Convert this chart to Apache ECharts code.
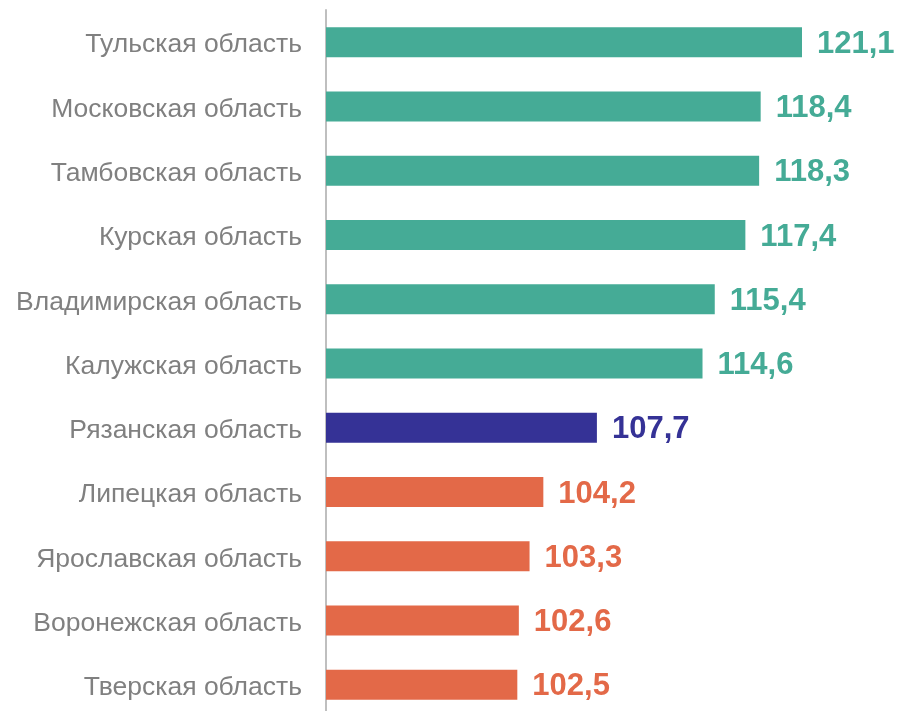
<!DOCTYPE html>
<html>
<head>
<meta charset="utf-8">
<script src="https://cdn.jsdelivr.net/npm/echarts@6/dist/echarts.min.js"></script>
<style>
    html, body { margin: 0; padding: 0; background: #fff; }
    #chart { width: 899px; height: 711px; }
</style>
</head>
<body>
<div id="chart"></div>
<script>
var regions = [
    "Тульская область",
    "Московская область",
    "Тамбовская область",
    "Курская область",
    "Владимирская область",
    "Калужская область",
    "Рязанская область",
    "Липецкая область",
    "Ярославская область",
    "Воронежская область",
    "Тверская область"
];
var values = [121.1, 118.4, 118.3, 117.4, 115.4, 114.6, 107.7, 104.2, 103.3, 102.6, 102.5];
var groups = ["top", "top", "top", "top", "top", "top", "self", "low", "low", "low", "low"];

var groupColor = {
    top: "#45AB96",
    self: "#353296",
    low: "#E36948"
};

var barData = [];
for (var i = 0; i < values.length; i++) {
    var c = groupColor[groups[i]];
    barData.push({
        value: values[i],
        itemStyle: { color: c },
        label: { color: c }
    });
}

var FONT = "'Liberation Sans', Arial, sans-serif";

var chart = echarts.init(document.getElementById("chart"));
var option = {
    animation: false,
    grid: {
        left: 326,
        top: 10,
        width: 476,
        height: 707,
        containLabel: false,
        outerBoundsMode: "none"
    },
    xAxis: {
        type: "value",
        min: 90,
        max: 121.1,
        show: false
    },
    yAxis: {
        type: "category",
        inverse: true,
        data: regions,
        axisLine: { show: true, lineStyle: { color: "#BFBFBF", width: 2 } },
        axisTick: { show: false },
        axisLabel: {
            margin: 24,
            formatter: function (v) {
                return "{r|" + v + "}";
            },
            rich: {
                r: {
                    color: "#808080",
                    fontSize: 26.5,
                    fontFamily: FONT,
                    padding: [6, 0, 0, 0]
                }
            }
        }
    },
    series: [{
        type: "bar",
        barWidth: 30,
        data: barData,
        label: {
            show: true,
            position: "right",
            distance: 15,
            fontSize: 31,
            fontWeight: "bold",
            fontFamily: FONT,
            offset: [0, 2],
            formatter: function (p) {
                return p.value.toFixed(1).replace(".", ",");
            }
        }
    }]
};
chart.setOption(option);
</script>
</body>
</html>
